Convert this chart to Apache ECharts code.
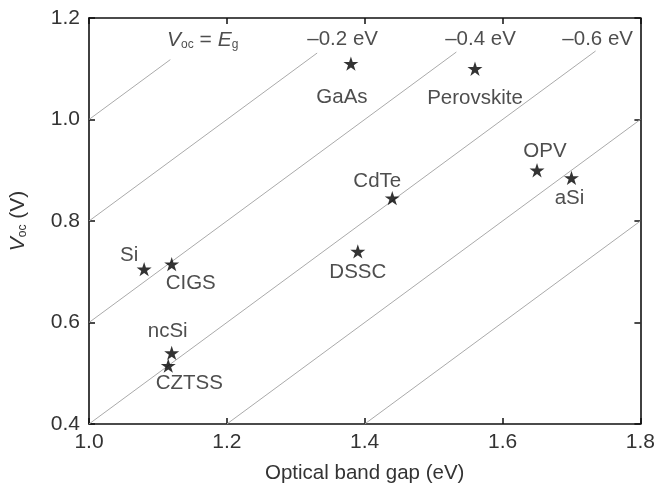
<!DOCTYPE html>
<html><head><meta charset="utf-8">
<script src="https://cdn.jsdelivr.net/npm/echarts@6/dist/echarts.min.js"></script>
<style>html,body{margin:0;padding:0;background:#fff}#c{width:658px;height:491px}</style>
</head><body><div id="c"></div>
<script>
// Data
const materials = ['GaAs', 'Perovskite', 'OPV', 'aSi', 'CdTe', 'DSSC', 'Si', 'CIGS', 'ncSi', 'CZTSS'];
const bandGap   = [1.38, 1.56, 1.65, 1.70, 1.44, 1.39, 1.08, 1.12, 1.12, 1.115];
const vocValues = [1.11, 1.10, 0.90, 0.885, 0.845, 0.74, 0.705, 0.715, 0.54, 0.515];

// Reference lines Voc = Eg + loss
const lossLevels   = [0, -0.2, -0.4, -0.6, -0.8, -1.0];
const lineStartGap = [1.0, 1.0, 1.0, 1.0, 1.2, 1.4];
const lineEndGap   = [1.118, 1.331, 1.533, 1.735, 1.8, 1.8];

// Line annotations
const annotationTexts = ['{i|V}{s|oc}{n| = }{i|E}{s|g}', '\u20130.2 eV', '\u20130.4 eV', '\u20130.6 eV'];
const annotationX = [1.165, 1.368, 1.568, 1.738];
const annotationY = [1.157, 1.157, 1.157, 1.157];

const xTicks = [1.0, 1.2, 1.4, 1.6, 1.8];
const yTicks = [0.4, 0.6, 0.8, 1.0, 1.2];

// label placement (pixel offsets from star centre) – styling, not data
const labelOffset = {
  GaAs: [-9, 34], Perovskite: [0, 30], OPV: [8, -19], aSi: [-2, 20], CdTe: [-15, -17],
  DSSC: [0, 21], Si: [-15, -14], CIGS: [19, 19], ncSi: [-4, -22], CZTSS: [21, 18]
};

const FONT = 'Liberation Sans, Arial, Helvetica, sans-serif';
const STAR = 'path://M100,0 L122.45,69.1 L195.1,69.1 L136.3,111.8 L158.8,180.9 L100,138.2 L41.2,180.9 L63.7,111.8 L4.9,69.1 L77.55,69.1 Z';

const lineSeries = lossLevels.map((loss, i) => ({
  type: 'line', silent: true, symbol: 'none', z: 1,
  data: [[lineStartGap[i], lineStartGap[i] + loss], [lineEndGap[i], lineEndGap[i] + loss]],
  lineStyle: { color: '#aaaaaa', width: 1 }
}));

const starData = materials.map((m, i) => ({
  name: m, value: [bandGap[i], vocValues[i]],
  label: { offset: labelOffset[m] }
}));

const annData = annotationTexts.map((t, i) => ({ name: t, value: [annotationX[i], annotationY[i]] }));

const frameLine = { show: true, onZero: false, lineStyle: { color: '#111', width: 1.6 } };
const tick = { show: true, inside: true, length: 6, lineStyle: { color: '#111', width: 1.5 } };
const lblStyle = { color: '#333', fontSize: 21, fontFamily: FONT };

const option = {
  animation: false,
  grid: { left: 88, right: 16, top: 18, bottom: 67 },
  xAxis: [
    { type: 'value', min: xTicks[0], max: xTicks[xTicks.length - 1], interval: 0.2, position: 'bottom',
      axisLine: frameLine, axisTick: tick, splitLine: { show: false },
      axisLabel: Object.assign({ margin: 8, formatter: v => v.toFixed(1) }, lblStyle),
      name: 'Optical band gap (eV)', nameLocation: 'middle', nameGap: 39,
      nameTextStyle: { color: '#333', fontSize: 20.5, fontFamily: FONT } },
    { type: 'value', min: xTicks[0], max: xTicks[xTicks.length - 1], interval: 0.2, position: 'top',
      axisLine: frameLine, axisTick: tick, splitLine: { show: false }, axisLabel: { show: false } }
  ],
  yAxis: [
    { type: 'value', min: yTicks[0], max: yTicks[yTicks.length - 1], interval: 0.2, position: 'left',
      axisLine: frameLine, axisTick: tick, splitLine: { show: false },
      axisLabel: Object.assign({ margin: 9, formatter: v => v.toFixed(1) }, lblStyle),
      name: '{i|V}{s|oc}{n| (V)}', nameLocation: 'middle', nameGap: 60, nameRotate: 90,
      nameTextStyle: { color: '#333', fontFamily: FONT,
        rich: { i: { fontSize: 21, fontStyle: 'italic', fontFamily: FONT, color: '#333' },
                s: { fontSize: 12, lineHeight: 8, verticalAlign: 'bottom', fontFamily: FONT, color: '#333' },
                n: { fontSize: 21, fontFamily: FONT, color: '#333' } } } },
    { type: 'value', min: yTicks[0], max: yTicks[yTicks.length - 1], interval: 0.2, position: 'right',
      axisLine: frameLine, axisTick: tick, splitLine: { show: false }, axisLabel: { show: false } }
  ],
  series: lineSeries.concat([
    { type: 'scatter', z: 3, data: starData, symbol: STAR, symbolSize: 15, symbolKeepAspect: true,
      itemStyle: { color: '#000' },
      label: { show: true, position: 'inside', formatter: p => p.name, color: '#222',
               fontSize: 20.5, fontFamily: FONT, align: 'center', verticalAlign: 'middle' } },
    { type: 'scatter', z: 3, silent: true, data: annData, symbolSize: 1,
      itemStyle: { color: 'rgba(0,0,0,0)' },
      label: { show: true, position: 'inside', formatter: p => p.name, color: '#222',
               fontSize: 20.5, fontFamily: FONT, align: 'center', verticalAlign: 'middle',
               rich: { i: { fontSize: 21, fontStyle: 'italic', fontFamily: FONT, color: '#222' },
                       s: { fontSize: 12, lineHeight: 8, verticalAlign: 'bottom', fontFamily: FONT, color: '#222' },
                       n: { fontSize: 21, fontFamily: FONT, color: '#222' } } } }
  ])
};

echarts.init(document.getElementById('c')).setOption(option);
</script></body></html>
